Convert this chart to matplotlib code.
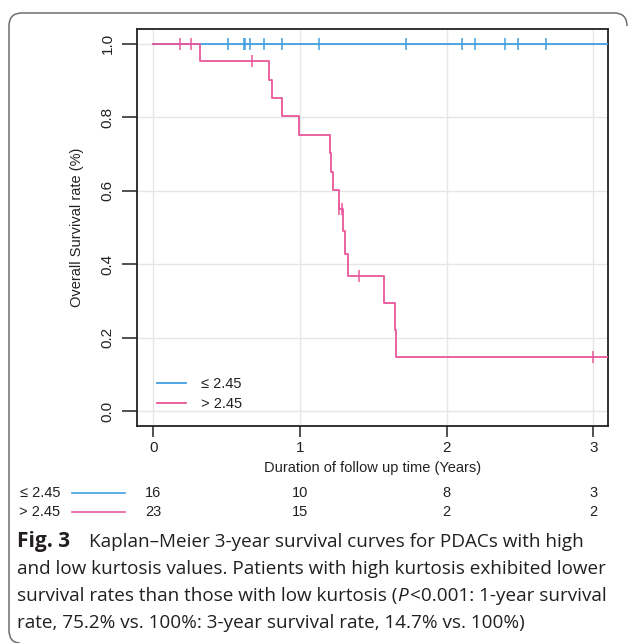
import matplotlib
matplotlib.use('Agg')
import matplotlib.pyplot as plt
import numpy as np
from matplotlib.path import Path
import matplotlib.patches as mpatches

# ---------------- data ----------------
groups = ['\u2264 2.45', '> 2.45']
low_step_times = [0.0]
low_step_surv = [1.0]
low_censor_times = [0.511, 0.620, 0.627, 0.661, 0.757, 0.879, 1.132, 1.725,
                    2.106, 2.195, 2.399, 2.488, 2.679]
high_step_times = [0.0, 0.32, 0.79, 0.81, 0.877, 0.995, 1.207, 1.212, 1.229,
                   1.266, 1.297, 1.309, 1.325, 1.575, 1.645, 1.655]
high_step_surv = [1.0, 0.952, 0.902, 0.852, 0.802, 0.752, 0.702, 0.652, 0.602,
                  0.551, 0.490, 0.429, 0.368, 0.294, 0.221, 0.147]
high_censor_times = [0.184, 0.259, 0.675, 1.270, 1.290, 1.402, 3.0]
x_ticks = [0, 1, 2, 3]
y_ticks = [0.0, 0.2, 0.4, 0.6, 0.8, 1.0]
risk_times = [0, 1, 2, 3]
risk_low = [16, 10, 8, 3]
risk_high = [23, 15, 2, 2]
x_label = 'Duration of follow up time (Years)'
y_label = 'Overall Survival rate (%)'
caption_title = 'Fig. 3'
caption_lines = [
    [('Kaplan\u2013Meier 3-year survival curves for PDACs with high', 'normal')],
    [('and low kurtosis values. Patients with high kurtosis exhibited lower', 'normal')],
    [('survival rates than those with low kurtosis (', 'normal'), ('P', 'italic'),
     ('<0.001: 1-year survival', 'normal')],
    [('rate, 75.2% vs. 100%: 3-year survival rate, 14.7% vs. 100%)', 'normal')],
]

BLUE = '#3f9fe2'
PINK = '#e8579b'
W, H = 630, 643
XMIN, XMAX = -0.11, 3.10

fig = plt.figure(figsize=(W / 100, H / 100), dpi=100)
fig.patch.set_facecolor('white')

# overlay in pixel coordinates
ov = fig.add_axes([0, 0, 1, 1], zorder=0)
ov.set_xlim(0, W)
ov.set_ylim(H, 0)
ov.axis('off')

# frame (rounded bracket)
verts = [(627, 26), (627, 13), (614, 13), (22, 13), (9, 13), (9, 26),
         (9, 630), (9, 643), (20, 643)]
codes = [Path.MOVETO, Path.CURVE3, Path.CURVE3, Path.LINETO, Path.CURVE3, Path.CURVE3,
         Path.LINETO, Path.CURVE3, Path.CURVE3]
ov.add_patch(mpatches.PathPatch(Path(verts, codes), fill=False, edgecolor='#6e6e6e', lw=1.1))

# ---------------- main axes ----------------
ax_l, ax_r, ax_t, ax_b = 137, 608, 29, 426
ax = fig.add_axes([ax_l / W, 1 - ax_b / H, (ax_r - ax_l) / W, (ax_b - ax_t) / H], zorder=2)
ax.set_facecolor('none')
ax.set_xlim(XMIN, XMAX)
ax.set_ylim(-0.04, 1.04)
ax.set_xticks(x_ticks)
ax.set_yticks(y_ticks)
ax.set_yticklabels([f'{v:.1f}' for v in y_ticks], rotation=90, va='center')
ax.grid(True, color='#e6e6e6', lw=1.0)
ax.set_axisbelow(True)
for s in ax.spines.values():
    s.set_color('#222222')
    s.set_linewidth(1.3)
ax.tick_params(axis='x', length=8, width=1.1, color='#222222', labelsize=11, pad=3,
               labelcolor='#222222')
ax.tick_params(axis='y', length=11, width=1.1, color='#222222', labelsize=11, pad=5,
               labelcolor='#222222')
for lab in ax.get_xticklabels() + ax.get_yticklabels():
    lab.set_family('Liberation Sans')
ax.set_xlabel(x_label, family='Liberation Sans', fontsize=10.5, color='#222222', labelpad=4)
ax.set_ylabel(y_label, family='Liberation Sans', fontsize=10.5, color='#222222', labelpad=12)


def draw_km(times, surv, censors, color, label):
    t = list(times) + [XMAX + 0.5]
    s = list(surv) + [surv[-1]]
    ax.step(t, s, where='post', color=color, lw=1.3, label=label, zorder=3)
    idx = np.searchsorted(np.array(times), np.array(censors), side='right') - 1
    cy = np.array(surv)[idx]
    ax.plot(censors, cy, linestyle='none', marker='|', markersize=9, mew=1.1,
            color=color, zorder=4)


draw_km(low_step_times, low_step_surv, low_censor_times, BLUE, groups[0])
draw_km(high_step_times, high_step_surv, high_censor_times, PINK, groups[1])

leg = ax.legend(loc='lower left', bbox_to_anchor=(0.015, 0.005), frameon=False,
                prop={'family': 'Liberation Sans', 'size': 10.5},
                handlelength=2.0, handletextpad=1.0, labelspacing=0.42)
for txt in leg.get_texts():
    txt.set_color('#222222')

# ---------------- risk table ----------------
def xpix(t):
    return ax_l + (t - XMIN) / (XMAX - XMIN) * (ax_r - ax_l)

rows = [(risk_low, BLUE, groups[0], 493), (risk_high, PINK, groups[1], 512)]
for vals, col, lab, yy in rows:
    ov.text(60, yy, lab, ha='right', va='center', family='Liberation Sans',
            fontsize=10.5, color='#222222')
    ov.plot([72, 125], [yy, yy], color=col, lw=1.2)
    for t, v in zip(risk_times, vals):
        ov.text(xpix(t), yy, str(v), ha='center', va='center', family='Liberation Sans',
                fontsize=10.5, color='#222222')

# ---------------- caption ----------------
fig.canvas.draw()
renderer = fig.canvas.get_renderer()
cap_family = 'Open Sans'
cap_size = 13.6
baselines = [547, 574, 601, 628]
ov.text(17, baselines[0], caption_title, ha='left', va='baseline', family=cap_family,
        fontsize=15, fontweight='bold', color='#231f20')
for i, (line, yb) in enumerate(zip(caption_lines, baselines)):
    x = 89 if i == 0 else 17
    for frag, style in line:
        t = ov.text(x, yb, frag, ha='left', va='baseline', family=cap_family,
                    fontsize=cap_size, fontstyle=style, color='#231f20')
        bb = t.get_window_extent(renderer)
        x += bb.width * (W / fig.bbox.width)
        if style == 'italic':
            x += 2

fig.savefig('out.png', dpi=100, facecolor='white')
